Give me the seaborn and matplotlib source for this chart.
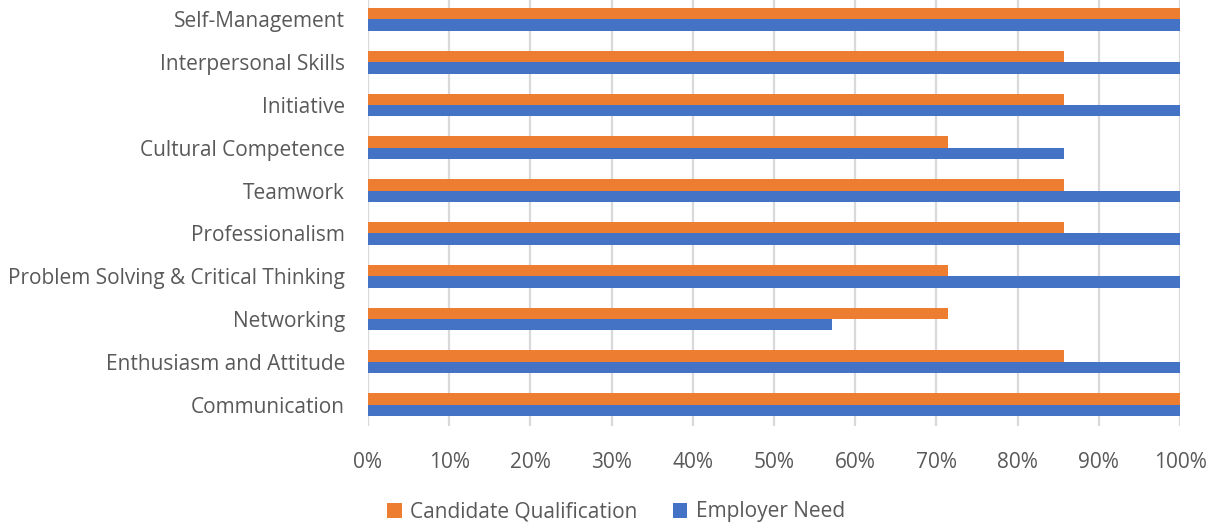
import matplotlib
matplotlib.use("Agg")
import matplotlib.pyplot as plt
import seaborn as sns
import pandas as pd
from matplotlib.ticker import PercentFormatter

categories = [
    "Self-Management",
    "Interpersonal Skills",
    "Initiative",
    "Cultural Competence",
    "Teamwork",
    "Professionalism",
    "Problem Solving & Critical Thinking",
    "Networking",
    "Enthusiasm and Attitude",
    "Communication",
]
candidate_qualification = [1.0, 6/7, 6/7, 5/7, 6/7, 6/7, 5/7, 5/7, 6/7, 1.0]
employer_need = [1.0, 1.0, 1.0, 6/7, 1.0, 1.0, 1.0, 4/7, 1.0, 1.0]
series_names = ["Candidate Qualification", "Employer Need"]
x_ticks = [i / 10 for i in range(11)]

df = pd.DataFrame({
    "Skill": categories * 2,
    "Value": candidate_qualification + employer_need,
    "Series": [series_names[0]] * len(categories) + [series_names[1]] * len(categories),
})

sns.set_theme(style="white")
plt.rcParams["font.family"] = ["Open Sans", "DejaVu Sans"]
text_color = "#595959"

fig = plt.figure(figsize=(12.17, 5.25), dpi=100)
ax = fig.add_axes([368 / 1217, 1 - 426 / 525, (1180 - 368) / 1217, 428 / 525])

sns.barplot(
    data=df, y="Skill", x="Value", hue="Series",
    order=categories, hue_order=series_names,
    palette=["#ED7D31", "#4472C4"], saturation=1, orient="h",
    width=0.53, gap=0, ax=ax, legend=True,
    edgecolor="none", linewidth=0,
)

ax.set_xlim(0, 1)
ax.set_ylim(len(categories) - 0.5, -0.5)
ax.set_xticks(x_ticks)
ax.xaxis.set_major_formatter(PercentFormatter(1.0, decimals=0))
ax.grid(axis="x", color="#d9d9d9", linewidth=1.6)
ax.grid(axis="y", visible=False)
ax.set_axisbelow(True)
for s in ax.spines.values():
    s.set_visible(False)
ax.set_xlabel("")
ax.set_ylabel("")
ax.tick_params(axis="both", length=0, labelsize=15, colors=text_color)
ax.tick_params(axis="x", pad=19)
ax.tick_params(axis="y", pad=16.5)

handles, labels = ax.get_legend_handles_labels()
ax.get_legend().remove()
fig.legend(handles, labels, loc="center", bbox_to_anchor=(0.506, 1 - 512 / 525),
           ncol=2, frameon=False, fontsize=15, labelcolor=text_color,
           handlelength=0.7, handleheight=0.7, handletextpad=0.4, columnspacing=1.7)

fig.savefig("out.png", dpi=100)
